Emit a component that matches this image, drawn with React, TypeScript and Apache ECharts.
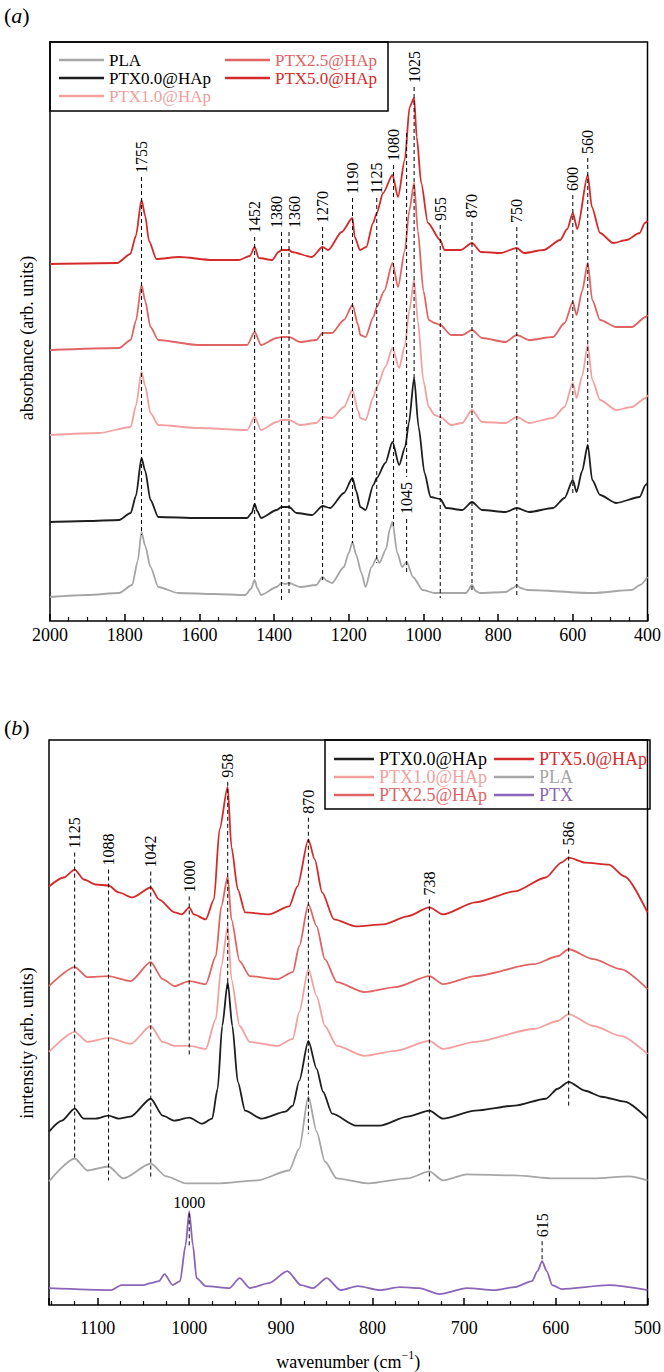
import React, { useEffect, useRef } from 'react';
import * as echarts from 'echarts';

const SERIF = 'Liberation Serif';
const fontStr = (size: number) => `${size}px Liberation Serif`;

const COLOR: Record<string, string> = {
  'PLA': '#a6a6a6',
  'PTX0.0@HAp': '#1e1e1e',
  'PTX1.0@HAp': '#f2a0a0',
  'PTX2.5@HAp': '#e06464',
  'PTX5.0@HAp': '#d42a2a',
  'PTX': '#8a66b8',
};

// ---------- Panel (a): FTIR absorbance, [wavenumber, absorbance] ----------
const A_PLA = [[2000,24],[1900,26],[1815,28],[1780,36],[1765,60],[1755,89],[1745,75],[1731,54],[1710,34],[1657,28],[1560,27],[1477,26],[1462,32],[1452,41],[1445,33],[1435,26],[1393,34],[1380,38],[1370,37],[1360,38],[1330,34],[1287,36],[1270,44],[1258,40],[1245,38],[1213,54],[1200,68],[1190,79],[1180,66],[1166,48],[1155,34],[1139,54],[1125,63],[1118,58],[1100,72],[1090,92],[1083,99],[1070,68],[1057,54],[1045,59],[1028,44],[1002,31],[970,28],[955,28],[886,28],[870,36],[860,30],[849,28],[780,29],[760,33],[750,36],[740,33],[722,31],[548,28],[442,31],[420,36],[400,44]];
const A_PTX00 = [[2000,99],[1900,100],[1815,101],[1784,108],[1770,125],[1755,163],[1745,150],[1731,121],[1710,104],[1604,103],[1472,103],[1460,108],[1452,117],[1445,110],[1435,103],[1393,111],[1380,114],[1360,114],[1340,108],[1298,106],[1270,115],[1250,113],[1213,128],[1190,143],[1180,130],[1169,114],[1155,111],[1134,136],[1125,143],[1102,158],[1083,179],[1065,156],[1049,174],[1039,198],[1025,243],[1013,194],[997,148],[981,124],[955,122],[939,113],[896,111],[870,119],[843,111],[780,109],[750,113],[717,109],[653,113],[622,123],[600,141],[590,129],[575,150],[560,176],[548,141],[527,126],[484,118],[421,124],[405,136],[400,138]];
const A_PTX10 = [[2000,186],[1868,188],[1784,194],[1770,215],[1755,249],[1745,235],[1731,208],[1710,196],[1604,193],[1472,191],[1452,204],[1435,191],[1393,199],[1380,201],[1360,201],[1330,196],[1287,198],[1270,204],[1245,203],[1213,214],[1190,231],[1175,210],[1169,203],[1155,201],[1134,224],[1125,234],[1102,254],[1083,273],[1065,253],[1050,275],[1038,310],[1025,341],[1015,300],[1000,240],[986,214],[970,206],[955,204],[926,196],[896,198],[870,211],[843,199],[780,198],[750,204],[717,198],[653,203],[622,214],[600,238],[590,223],[575,245],[560,276],[548,241],[527,221],[484,211],[442,214],[405,223],[400,226]];
const A_PTX25 = [[2000,271],[1815,273],[1784,281],[1770,300],[1755,336],[1745,320],[1731,294],[1710,281],[1604,276],[1472,276],[1452,289],[1435,276],[1393,283],[1380,284],[1360,284],[1330,279],[1287,281],[1270,288],[1245,288],[1213,301],[1190,316],[1175,296],[1169,286],[1155,284],[1134,304],[1125,314],[1105,330],[1083,358],[1068,334],[1050,370],[1038,410],[1025,438],[1015,390],[1000,330],[986,301],[970,298],[955,296],[926,286],[896,286],[870,291],[843,283],[780,279],[750,286],[717,281],[653,284],[622,298],[600,319],[590,306],[575,330],[560,358],[548,321],[527,301],[484,294],[442,294],[405,304],[400,306]];
const A_PTX50 = [[2000,357],[1820,358],[1785,367],[1770,385],[1755,421],[1745,405],[1735,380],[1715,362],[1654,364],[1565,361],[1494,361],[1465,365],[1452,374],[1441,363],[1405,361],[1388,369],[1380,371],[1360,371],[1352,369],[1299,364],[1270,374],[1255,371],[1219,389],[1190,403],[1184,384],[1170,371],[1153,374],[1135,398],[1125,408],[1108,428],[1083,446],[1068,424],[1050,461],[1037,514],[1025,523],[1018,484],[1006,438],[988,398],[955,381],[944,371],[900,371],[870,378],[846,369],[793,368],[750,373],[731,368],[678,371],[634,381],[615,392],[600,408],[588,392],[560,446],[549,414],[527,388],[492,378],[456,381],[421,388],[407,398],[400,400]];

const A_PEAKS = [1755, 1452, 1380, 1360, 1270, 1190, 1125, 1080, 1045, 1025, 955, 870, 750, 600, 560];
const A_TOP = [444, 384, 389, 389, 394, 423, 423, 456, 488, 534, 396, 399, 394, 426, 463];
const A_BOTTOM = [86, 41, 21, 28, 41, 78, 58, 94, 46, 243, 23, 28, 23, 128, 171];
const A_MID = [0, 0, 0, 0, 0, 0, 0, 0, 123, 0, 0, 0, 0, 0, 0];
const A_LABEL_DX = [0, 0, -5, 5, 0, 0, 0, 0, 0, 0, 0, 0, 0, 0, 0];

// ---------- Panel (b): Raman intensity, [wavenumber, intensity] ----------
const B_PTX50 = [[1153,420],[1137,429],[1125,437],[1115,427],[1102,422],[1088,421],[1077,414],[1062,409],[1042,419],[1033,407],[1016,394],[1008,392],[1000,399],[995,392],[982,387],[973,407],[967,477],[958,520],[954,460],[947,417],[939,394],[913,392],[891,400],[882,420],[870,467],[863,447],[855,414],[842,387],[818,380],[788,382],[762,390],[738,399],[723,392],[688,404],[645,415],[611,429],[594,444],[586,449],[568,444],[542,442],[525,430],[500,394]];
const B_PTX25 = [[1153,320],[1125,339],[1111,329],[1088,330],[1064,325],[1042,344],[1029,327],[1016,320],[1000,325],[982,322],[971,350],[965,400],[958,430],[954,387],[945,345],[934,330],[904,327],[887,334],[880,360],[870,402],[861,380],[852,347],[839,324],[809,314],[775,319],[738,330],[723,322],[688,330],[624,342],[598,350],[586,357],[559,347],[529,337],[500,317]];
const B_PTX10 = [[1153,254],[1125,274],[1111,264],[1088,268],[1064,262],[1042,280],[1029,264],[1016,260],[1000,260],[982,257],[971,287],[965,340],[958,380],[954,327],[945,280],[934,264],[904,260],[887,267],[880,294],[870,337],[861,310],[852,280],[839,260],[809,250],[775,255],[738,265],[723,257],[688,264],[624,277],[598,285],[586,292],[559,280],[529,270],[500,252]];
const B_PTX00 = [[1153,174],[1139,185],[1125,197],[1115,187],[1102,187],[1088,190],[1077,187],[1064,189],[1042,207],[1029,190],[1016,185],[1000,188],[986,182],[975,187],[969,217],[964,280],[958,324],[953,280],[947,224],[939,195],[921,187],[895,194],[887,200],[880,225],[870,265],[861,237],[854,214],[844,192],[818,180],[792,180],[762,189],[738,195],[723,187],[688,195],[645,200],[611,207],[598,217],[586,224],[568,215],[550,209],[525,204],[500,187]];
const B_PLA = [[1153,124],[1125,147],[1111,135],[1088,139],[1072,127],[1042,142],[1025,129],[1003,122],[969,122],[926,125],[891,135],[880,157],[870,209],[861,174],[852,144],[839,127],[805,122],[762,127],[738,134],[723,125],[697,131],[645,130],[602,127],[559,127],[520,129],[500,125]];
const B_PTX = [[1153,17],[1085,15],[1074,20],[1050,20],[1042,22],[1033,24],[1027,31],[1018,20],[1010,24],[1004,60],[1000,94],[996,60],[992,27],[982,19],[956,17],[945,27],[934,17],[913,22],[893,34],[878,20],[865,17],[850,27],[835,15],[816,19],[792,15],[770,18],[749,17],[727,11],[697,17],[667,15],[645,18],[626,24],[620,34],[615,44],[610,34],[604,20],[594,16],[542,20],[500,15]];

const B_PEAKS = [1125, 1088, 1042, 1000, 958, 870, 738, 586, 1000, 615];
const B_TOP = [454, 437, 435, 410, 525, 489, 407, 457, 92, 64];
const B_BOTTOM = [147, 125, 127, 250, 317, 172, 124, 199, 57, 44];
const B_HORIZ = [0, 0, 0, 0, 0, 0, 0, 0, 1, 0];

const lineSeries = (name: string, data: number[][], idx: number) => ({
  type: 'line',
  name,
  xAxisIndex: idx,
  yAxisIndex: idx,
  data,
  symbol: 'none',
  showSymbol: false,
  smooth: 0.25,
  smoothMonotone: 'x',
  silent: true,
  z: 3,
  itemStyle: { color: COLOR[name] },
  lineStyle: { color: COLOR[name], width: 1.8 },
});

const annSeries = (data: number[][], idx: number) => ({
  type: 'custom',
  xAxisIndex: idx,
  yAxisIndex: idx,
  data,
  silent: true,
  clip: false,
  z: 4,
  encode: { x: 0, y: [1, 2] },
  renderItem: (params: any, api: any) => {
    const wn = api.value(0);
    const top = api.value(1);
    const bot = api.value(2);
    const mid = api.value(3);
    const horiz = api.value(4);
    const ldx = api.value(5) || 0;
    const pT = api.coord([wn, top]);
    const pB = api.coord([wn, bot]);
    const dash = { stroke: '#000', lineWidth: 1, lineDash: [4, 3] };
    const font = { fill: '#000', font: fontStr(16) };
    const label = String(wn);
    const children: any[] = [];
    if (mid > 0) {
      const pM = api.coord([wn, mid]);
      children.push({ type: 'line', shape: { x1: pT[0], y1: pT[1], x2: pT[0], y2: pM[1] - 21 }, style: dash });
      children.push({ type: 'line', shape: { x1: pT[0], y1: pM[1] + 21, x2: pT[0], y2: pB[1] }, style: dash });
      children.push({ type: 'text', x: pM[0] + ldx, y: pM[1], rotation: Math.PI / 2, style: { ...font, text: label, align: 'center', verticalAlign: 'middle' } });
    } else {
      children.push({ type: 'line', shape: { x1: pT[0], y1: pT[1], x2: pT[0], y2: pB[1] }, style: dash });
      if (horiz) {
        children.push({ type: 'text', x: pT[0] + ldx, y: pT[1] - 3, style: { ...font, text: label, align: 'center', verticalAlign: 'bottom' } });
      } else {
        children.push({ type: 'text', x: pT[0] + ldx, y: pT[1] - 4, rotation: Math.PI / 2, style: { ...font, text: label, align: 'left', verticalAlign: 'middle' } });
      }
    }
    return { type: 'group', children };
  },
});

const legendCol = (names: string[], textColors: string[], left: number, top: number, itemWidth: number, fontSize: number) => ({
  orient: 'vertical',
  left,
  top,
  padding: 0,
  itemGap: 0,
  itemWidth,
  itemHeight: 2.5,
  icon: 'rect',
  selectedMode: false,
  textStyle: { fontFamily: SERIF, fontSize, lineHeight: 18 },
  data: names.map((n, i) => ({ name: n, textStyle: { color: textColors[i], fontFamily: SERIF, fontSize } })),
});

const xAxisBase = {
  type: 'value',
  inverse: true,
  axisLine: { show: false },
  axisTick: { show: true, inside: true, length: 7, lineStyle: { color: '#000', width: 1.5 } },
  minorTick: { show: true, splitNumber: 4, length: 4, lineStyle: { color: '#000', width: 1.2 } },
  splitLine: { show: false },
  minorSplitLine: { show: false },
};

const option: any = {
  animation: false,
  backgroundColor: '#fff',
  textStyle: { fontFamily: SERIF },
  grid: [
    { left: 50, top: 42, width: 601, height: 579, show: true, borderColor: '#000', borderWidth: 1.5, backgroundColor: 'transparent' },
    { left: 49, top: 740, width: 601, height: 567, show: true, borderColor: '#000', borderWidth: 1.5, backgroundColor: 'transparent' },
  ],
  xAxis: [
    { ...xAxisBase, gridIndex: 0, min: 400, max: 2000, interval: 200,
      axisLabel: { color: '#000', fontFamily: SERIF, fontSize: 18, margin: 5, formatter: (v: number) => String(v) } },
    { ...xAxisBase, gridIndex: 1, min: 500, max: 1153, interval: 100,
      axisLabel: { color: '#000', fontFamily: SERIF, fontSize: 18, margin: 14, showMaxLabel: false, formatter: (v: number) => String(v) },
      name: '{t|wavenumber (cm}{s|−1}{t|)}',
      nameLocation: 'middle',
      nameGap: 44,
      nameTextStyle: {
        fontFamily: SERIF,
        rich: {
          t: { fontFamily: SERIF, fontSize: 18, color: '#000', lineHeight: 22, verticalAlign: 'bottom' },
          s: { fontFamily: SERIF, fontSize: 12, color: '#000', lineHeight: 22, verticalAlign: 'top' },
        },
      } },
  ],
  yAxis: [
    { type: 'value', gridIndex: 0, min: 0, max: 579, show: false },
    { type: 'value', gridIndex: 1, min: 0, max: 567, show: false },
  ],
  legend: [
    legendCol(['PLA', 'PTX0.0@HAp', 'PTX1.0@HAp'], ['#000', '#000', COLOR['PTX1.0@HAp']], 59, 51, 45, 17),
    legendCol(['PTX2.5@HAp', 'PTX5.0@HAp'], [COLOR['PTX2.5@HAp'], COLOR['PTX5.0@HAp']], 225, 51, 45, 17),
    legendCol(['PTX0.0@HAp', 'PTX1.0@HAp', 'PTX2.5@HAp'], ['#000', COLOR['PTX1.0@HAp'], COLOR['PTX2.5@HAp']], 334, 750, 40, 18),
    legendCol(['PTX5.0@HAp', 'PLA', 'PTX'], [COLOR['PTX5.0@HAp'], COLOR['PLA'], COLOR['PTX']], 494, 750, 40, 18),
  ],
  graphic: [
    { type: 'text', left: 4, top: 4, style: { text: '{p|(}{i|a}{p|)}', rich: { p: { fontFamily: SERIF, fontSize: 22, fill: '#000' }, i: { fontFamily: SERIF, fontSize: 22, fontStyle: 'italic', fill: '#000' } } } },
    { type: 'text', left: 4, top: 716, style: { text: '{p|(}{i|b}{p|)}', rich: { p: { fontFamily: SERIF, fontSize: 22, fill: '#000' }, i: { fontFamily: SERIF, fontSize: 22, fontStyle: 'italic', fill: '#000' } } } },
    { type: 'text', x: 27, y: 338, rotation: Math.PI / 2, style: { text: 'absorbance (arb. units)', font: fontStr(18), fill: '#000', align: 'center', verticalAlign: 'middle' } },
    { type: 'text', x: 27, y: 1043, rotation: Math.PI / 2, style: { text: 'inrtensity (arb. units)', font: fontStr(18), fill: '#000', align: 'center', verticalAlign: 'middle' } },
    { type: 'rect', shape: { x: 50, y: 42, width: 338, height: 69 }, style: { fill: 'none', stroke: '#000', lineWidth: 1.5 }, z: 10 },
    { type: 'rect', shape: { x: 325, y: 740, width: 325, height: 69 }, style: { fill: 'none', stroke: '#000', lineWidth: 1.5 }, z: 10 },
  ],
  series: [
    lineSeries('PLA', A_PLA, 0),
    lineSeries('PTX0.0@HAp', A_PTX00, 0),
    lineSeries('PTX1.0@HAp', A_PTX10, 0),
    lineSeries('PTX2.5@HAp', A_PTX25, 0),
    lineSeries('PTX5.0@HAp', A_PTX50, 0),
    annSeries(A_PEAKS.map((p, i) => [p, A_TOP[i], A_BOTTOM[i], A_MID[i], 0, A_LABEL_DX[i]]), 0),
    lineSeries('PTX0.0@HAp', B_PTX00, 1),
    lineSeries('PTX1.0@HAp', B_PTX10, 1),
    lineSeries('PTX2.5@HAp', B_PTX25, 1),
    lineSeries('PTX5.0@HAp', B_PTX50, 1),
    lineSeries('PLA', B_PLA, 1),
    lineSeries('PTX', B_PTX, 1),
    annSeries(B_PEAKS.map((p, i) => [p, B_TOP[i], B_BOTTOM[i], 0, B_HORIZ[i], 0]), 1),
  ],
};

export default function App() {
  const ref = useRef<HTMLDivElement>(null);
  useEffect(() => {
    const chart = echarts.init(ref.current as HTMLDivElement, null, { renderer: 'svg' });
    chart.setOption(option);
    return () => chart.dispose();
  }, []);
  return (
    <div
      ref={ref}
      style={{ position: 'absolute', left: 0, top: 0, width: 664, height: 1372, background: '#fff' }}
    />
  );
}
